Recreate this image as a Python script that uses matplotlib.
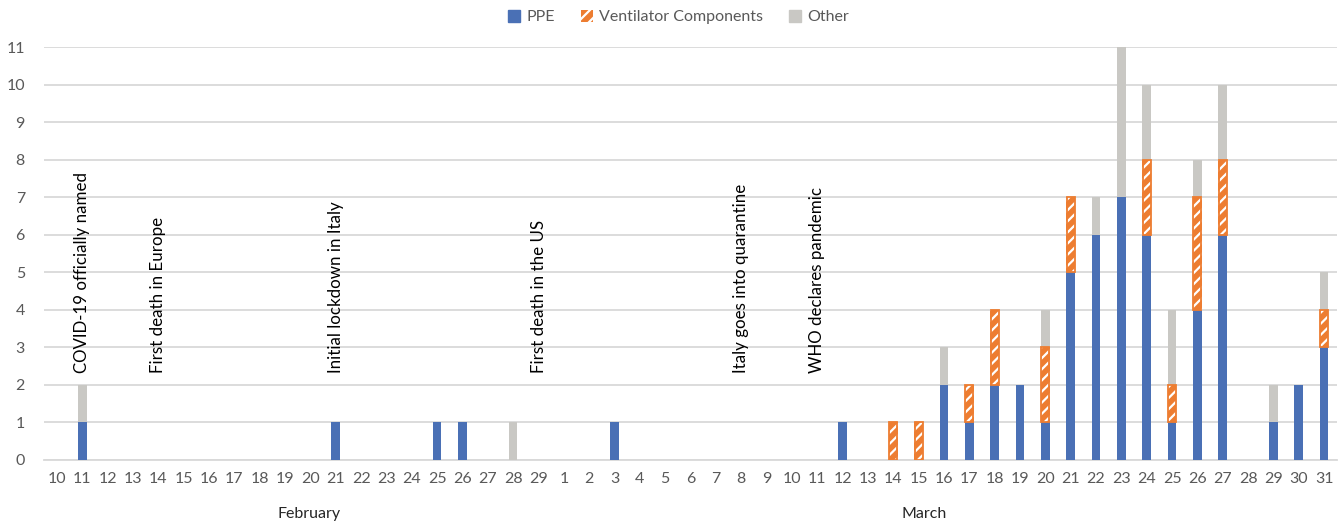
import matplotlib
matplotlib.use("Agg")
import matplotlib.pyplot as plt
from matplotlib.patches import Patch
import numpy as np

plt.rcParams['font.family'] = ['Lato', 'DejaVu Sans']
plt.rcParams['hatch.linewidth'] = 1.6

# Categories (day of month), February 10-29 then March 1-31
days = ['10', '11', '12', '13', '14', '15', '16', '17', '18', '19', '20', '21', '22', '23', '24',
        '25', '26', '27', '28', '29',
        '1', '2', '3', '4', '5', '6', '7', '8', '9', '10', '11', '12', '13', '14', '15', '16',
        '17', '18', '19', '20', '21', '22', '23', '24', '25', '26', '27', '28', '29', '30', '31']
months = ['February', 'March']

# Series values
ppe = [0, 1, 0, 0, 0, 0, 0, 0, 0, 0, 0, 1, 0, 0, 0, 1, 1, 0, 0, 0,
       0, 0, 1, 0, 0, 0, 0, 0, 0, 0, 0, 1, 0, 0, 0, 2, 1, 2, 2, 1,
       5, 6, 7, 6, 1, 4, 6, 0, 1, 2, 3]
vent = [0, 0, 0, 0, 0, 0, 0, 0, 0, 0, 0, 0, 0, 0, 0, 0, 0, 0, 0, 0,
        0, 0, 0, 0, 0, 0, 0, 0, 0, 0, 0, 0, 0, 1, 1, 0, 1, 2, 0, 2,
        2, 0, 0, 2, 1, 3, 2, 0, 0, 0, 1]
other = [0, 1, 0, 0, 0, 0, 0, 0, 0, 0, 0, 0, 0, 0, 0, 0, 0, 0, 1, 0,
         0, 0, 0, 0, 0, 0, 0, 0, 0, 0, 0, 0, 0, 0, 0, 1, 0, 0, 0, 1,
         0, 1, 4, 2, 2, 1, 2, 0, 1, 0, 1]

# Event annotations (category index, text)
event_idx = [1, 4, 11, 19, 27, 30]
event_txt = ['COVID-19 officially named', 'First death in Europe', 'Initial lockdown in Italy',
             'First death in the US', 'Italy goes into quarantine', 'WHO declares pandemic']

c_ppe = '#4A70B5'
c_vent = '#ED7D31'
c_other = '#C9C8C4'
txt_gray = '#595959'

fig = plt.figure(figsize=(13.44, 5.23), dpi=100)
ax = fig.add_axes([0.033, 0.1205, 0.9616, 0.7896])

x = np.arange(len(days))
w = 0.34
ppe_a = np.array(ppe)
vent_a = np.array(vent)
other_a = np.array(other)
vm = vent_a > 0

ax.bar(x, ppe_a, w, color=c_ppe, linewidth=0, zorder=3)
ax.bar(x[vm], vent_a[vm], w, bottom=ppe_a[vm], color=c_vent, linewidth=0, zorder=3)
ax.bar(x[vm], vent_a[vm], w, bottom=ppe_a[vm], color='none', edgecolor='white',
       hatch='///', linewidth=0, zorder=4)
ax.bar(x[vm], vent_a[vm], w * 0.95, bottom=ppe_a[vm], color='none', edgecolor=c_vent,
       linewidth=1.3, zorder=5)
ax.bar(x, other_a, w, bottom=ppe_a + vent_a, color=c_other, linewidth=0, zorder=3)

ax.set_xlim(-0.5, len(days) - 0.5)
ax.set_ylim(0, 11)
ax.set_yticks(range(0, 12))
ax.yaxis.grid(True, color='#D9D9D9', linewidth=1.3, zorder=0)
ax.set_axisbelow(True)
for s in ['top', 'right', 'left']:
    ax.spines[s].set_visible(False)
ax.spines['bottom'].set_color('#D9D9D9')
ax.spines['bottom'].set_linewidth(1.3)
ax.set_xticks(x)
ax.set_xticklabels(days)
ax.tick_params(axis='both', length=0, labelsize=11.5, colors=txt_gray)
ax.tick_params(axis='x', pad=9)
ax.tick_params(axis='y', pad=14)

# Month group labels
ax.text(9.96, -1.43, months[0], ha='center', va='center', fontsize=11.5, color='#262626')
ax.text(34.2, -1.43, months[1], ha='center', va='center', fontsize=11.5, color='#262626')

for i, t in zip(event_idx, event_txt):
    ax.text(i, 2.33, t, rotation=90, ha='center', va='bottom', fontsize=12.2, color='black', zorder=6)

h_ppe = Patch(facecolor=c_ppe, edgecolor=c_ppe)
h_vent = Patch(facecolor=c_vent, edgecolor='white', hatch='///', linewidth=0)
h_other = Patch(facecolor=c_other, edgecolor=c_other)
leg = fig.legend([h_ppe, h_vent, h_other], ['PPE', 'Ventilator Components', 'Other'],
                 loc='center', bbox_to_anchor=(0.505, 0.967), ncol=3, frameon=False,
                 fontsize=11.5, handlelength=0.75, handleheight=0.75, handletextpad=0.4,
                 columnspacing=1.6)
for t in leg.get_texts():
    t.set_color(txt_gray)

fig.savefig('out.png', dpi=100)
